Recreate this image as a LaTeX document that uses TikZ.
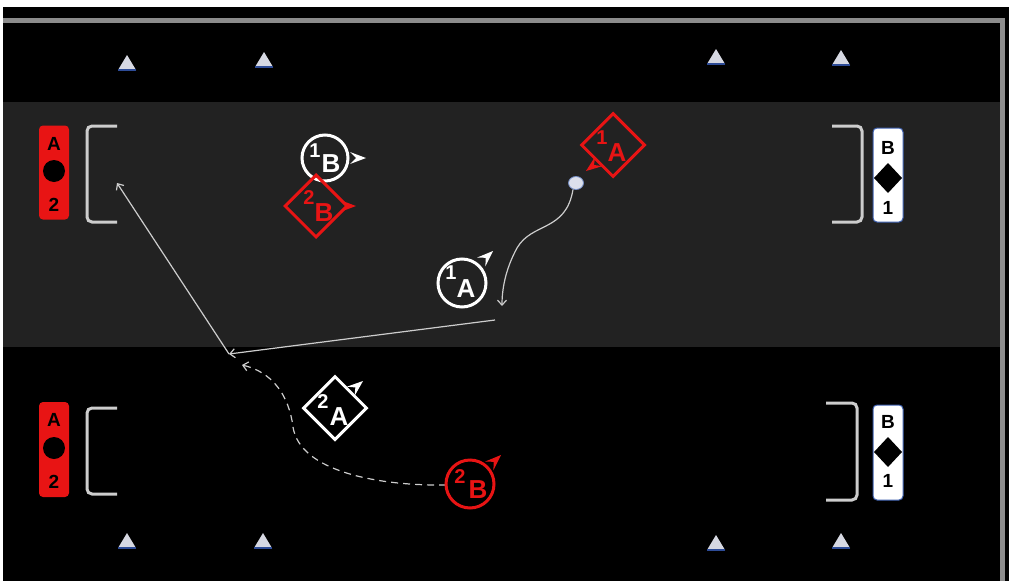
\documentclass[tikz,border=0pt]{standalone}
\usepackage{fontspec}
\setmainfont{Liberation Sans}
\usetikzlibrary{shapes.geometric,arrows.meta,calc}
\definecolor{pred}{RGB}{232,20,20}
\definecolor{band}{RGB}{34,34,34}
\definecolor{framec}{RGB}{140,140,140}
\definecolor{linec}{RGB}{205,205,205}
\definecolor{conec}{RGB}{214,216,226}
\definecolor{coneedge}{RGB}{45,75,150}
\definecolor{goalblue}{RGB}{60,95,175}
\definecolor{ballc}{RGB}{220,224,236}
\begin{document}
\begin{tikzpicture}[x=1pt,y=-1pt,
  cone/.pic={\fill[conec] (-9,7) -- (0,-8) -- (9,7) -- cycle;
             \draw[coneedge,line width=1.3] (-9,7) -- (9,7);},
  parrow/.pic={\fill (0,0) -- (-16,-6) -- (-10,0) -- (-16,6) -- cycle;},
  redgoal/.style={fill=pred,rounded corners=4,minimum width=30,minimum height=94,inner sep=0},
  whitegoal/.style={fill=white,draw=goalblue,line width=1,rounded corners=4,minimum width=30,minimum height=94,inner sep=0},
  gletter/.style={font=\fontsize{19}{19}\selectfont\bfseries,text=black,inner sep=0},
  bracket/.style={draw=linec,line width=3,rounded corners=5},
  pcircle/.style={circle,line width=3,minimum size=46,inner sep=0},
  pdiam/.style={diamond,aspect=1,line width=3,minimum size=63,inner sep=0},
  supl/.style={font=\fontsize{20}{20}\selectfont\bfseries,inner sep=0},
  subl/.style={font=\fontsize{26}{26}\selectfont\bfseries,inner sep=0},
  conn/.style={draw=linec,line width=1.2,-{Straight Barb[length=5,width=9]}}
]
\useasboundingbox (0,0) rectangle (1009,581);
\fill[white] (0,0) rectangle (1009,581);
\fill[black] (3,7) rectangle (1009,581);
\fill[band] (3,102) rectangle (1000,347);
\draw[framec,line width=5] (3,20) -- (1004,20);
\draw[framec,line width=5] (1002,18) -- (1002,581);

% cones
\pic at (127,63) {cone}; \pic at (264,60) {cone};
\pic at (716,57) {cone}; \pic at (841,58) {cone};
\pic at (127,541) {cone}; \pic at (263,541) {cone};
\pic at (716,543) {cone}; \pic at (841,541) {cone};

% left goals
\node[redgoal] (gL1) at (54,172.5) {};
\node[gletter] (gL1a) at (54,144) {A};
\fill[black] (54,171) circle (11);
\node[gletter] (gL1b) at (54,205) {2};
\draw[bracket] (117,126) -- (87,126) -- (87,222) -- (117,222);

\node[redgoal,minimum height=95] (gL2) at (54,449.5) {};
\node[gletter] (gL2a) at (54,420) {A};
\fill[black] (54,448) circle (11);
\node[gletter] (gL2b) at (54,482) {2};
\draw[bracket] (117,408) -- (87,408) -- (87,494) -- (117,494);

% right goals
\node[whitegoal] (gR1) at (888,175) {};
\node[gletter] (gR1a) at (888,148) {B};
\fill[black] (888,163) -- (902,178) -- (888,193) -- (874,178) -- cycle;
\node[gletter] (gR1b) at (888,208) {1};
\draw[bracket] (832,126) -- (862,126) -- (862,222) -- (832,222);

\node[whitegoal,minimum height=95] (gR2) at (888,452.5) {};
\node[gletter] (gR2a) at (888,422) {B};
\fill[black] (888,437) -- (902,452) -- (888,467) -- (874,452) -- cycle;
\node[gletter] (gR2b) at (888,481) {1};
\draw[bracket] (826,403) -- (857,403) -- (857,500) -- (826,500);

% ball
\node[ellipse,fill=ballc,draw=goalblue!70!white,line width=0.8,minimum width=15,minimum height=13,inner sep=0] (ball) at (576,183) {};

% coordinates
\coordinate (runend) at (502,306);
\coordinate (passstart) at (495,320);
\coordinate (recv) at (229,354);
\coordinate (shot) at (117,183);
\coordinate (dashend) at (242,365);

% connectors
\draw[conn] (ball.-115) .. controls (566,232) and (532,222) .. (517,248) .. controls (505,270) and (502,290) .. (runend);
\draw[conn] (passstart) -- (recv);
\draw[conn] (recv) -- (shot);
\draw[conn,dash pattern=on 7pt off 5pt] (446,485) .. controls (380,486) and (300,472) .. (293,427) .. controls (289,395) and (272,372) .. (dashend);

% players
\node[pcircle,draw=white] (p1B) at (325,158) {};
\node[supl,text=white] (p1Bn) at ($(p1B.center)+(-10,-7)$) {1};
\node[subl,text=white] (p1Bl) at ($(p1B.center)+(6,6)$) {B};
\pic[white] at (366,158) {parrow};

\node[pdiam,draw=pred] (p2B) at (316,206) {};
\node[supl,text=pred] (p2Bn) at ($(p2B.center)+(-7,-8)$) {2};
\node[subl,text=pred] (p2Bl) at ($(p2B.center)+(8,7)$) {B};
\pic[pred] at (356,206) {parrow};

\node[pdiam,draw=pred,minimum size=64] (p1Ar) at (613,145) {};
\node[supl,text=pred] (p1Arn) at ($(p1Ar.center)+(-11,-7)$) {1};
\node[subl,text=pred] (p1Arl) at ($(p1Ar.center)+(4,8)$) {A};
\pic[pred,rotate=217] at (586,171) {parrow};

\node[pcircle,draw=white,minimum size=48] (p1A) at (462,283) {};
\node[supl,text=white] (p1An) at ($(p1A.center)+(-11,-10)$) {1};
\node[subl,text=white] (p1Al) at ($(p1A.center)+(4,6)$) {A};
\pic[white,rotate=43] at (493,251) {parrow};

\node[pdiam,draw=white,minimum size=64] (p2A) at (335,408) {};
\node[supl,text=white] (p2An) at ($(p2A.center)+(-12,-6)$) {2};
\node[subl,text=white] (p2Al) at ($(p2A.center)+(4,9)$) {A};
\pic[white,rotate=40] at (363,381) {parrow};

\node[pcircle,draw=pred,minimum size=48] (p2Bc) at (470,484) {};
\node[supl,text=pred] (p2Bcn) at ($(p2Bc.center)+(-10,-7)$) {2};
\node[subl,text=pred] (p2Bcl) at ($(p2Bc.center)+(8,6)$) {B};
\pic[pred,rotate=43] at (501,455) {parrow};
\end{tikzpicture}
\end{document}
